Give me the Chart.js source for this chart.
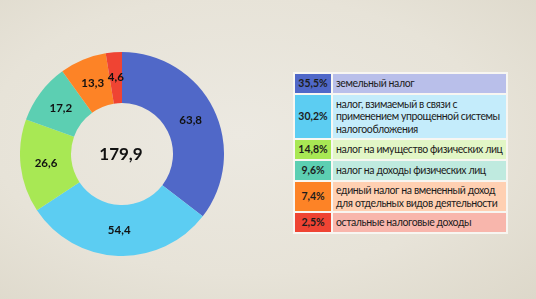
<!DOCTYPE html>
<html lang="ru">
<head>
  <meta charset="UTF-8">
  <title>Налоговые доходы</title>
  <script src="https://cdn.jsdelivr.net/npm/chart.js"></script>
  <style>
    html, body { margin: 0; padding: 0; }
    body {
      width: 536px; height: 299px; overflow: hidden; position: relative;
      background: radial-gradient(ellipse at 45% 45%, #ece9e1 0%, #e7e3d8 60%, #ddd8ca 100%);
      font-family: Lato, "Open Sans", sans-serif;
    }
    .chart-box { position: absolute; left: 20px; top: 52px; width: 204px; height: 204px; }
    table.legend {
      position: absolute; left: 293px; top: 72px;
      border-collapse: separate; border-spacing: 2px;
      background: rgba(250, 249, 246, 0.85);
      font-size: 10.5px; color: #1c1c1c;
    }
    table.legend td { padding: 0 3px; line-height: 12.5px; white-space: nowrap; }
    table.legend td.pct { width: 30px; text-align: center; font-weight: bold; font-size: 10.5px; }
    table.legend td.txt { width: 165px; letter-spacing: -0.4px; }
  </style>
</head>
<body>
  <div class="chart-box"><canvas id="donut"></canvas></div>
  <table class="legend" id="legend"></table>

  <script>
    const labels = [
      'земельный налог',
      'налог, взимаемый в связи с\nприменением упрощенной системы\nналогообложения',
      'налог на имущество физических лиц',
      'налог на доходы физических лиц',
      'единый налог на вмененный доход\nдля отдельных видов деятельности',
      'остальные налоговые доходы'
    ];
    const values = [63.8, 54.4, 26.6, 17.2, 13.3, 4.6];
    const shares = ['35,5%', '30,2%', '14,8%', '9,6%', '7,4%', '2,5%'];
    const total = '179,9';

    const colors = ['#5068c8', '#5ccdf2', '#a8e854', '#5ccfb2', '#fd8326', '#ef4433'];
    const lightColors = ['#b9bfea', '#c4ecfb', '#e2f6c6', '#bfeadf', '#ffd0b2', '#f8b6ac'];
    const rowHeights = [19, 43, 19, 19, 29, 19];

    // таблица-легенда справа
    const legend = document.getElementById('legend');
    labels.forEach((txt, i) => {
      const tr = document.createElement('tr');
      tr.style.height = rowHeights[i] + 'px';
      tr.innerHTML = `<td class="pct" style="background:${colors[i]}">${shares[i]}</td>` +
                     `<td class="txt" style="background:${lightColors[i]}">${txt.replace(/\n/g, '<br>')}</td>`;
      legend.appendChild(tr);
    });

    // подписи значений и итог в центре
    const valueLabels = {
      id: 'valueLabels',
      afterDatasetsDraw(chart) {
        const ctx = chart.ctx;
        const meta = chart.getDatasetMeta(0);
        ctx.save();
        ctx.textAlign = 'center';
        ctx.textBaseline = 'middle';
        ctx.fillStyle = '#111';
        ctx.font = 'bold 11.5px Lato, "Open Sans", sans-serif';
        meta.data.forEach((arc, i) => {
          const p = arc.tooltipPosition();
          ctx.fillText(values[i].toFixed(1).replace('.', ','), p.x, p.y);
        });
        const c = meta.data[0];
        ctx.font = 'bold 17px Lato, "Open Sans", sans-serif';
        ctx.fillText(total, c.x - 1, c.y + 1);
        ctx.restore();
      }
    };

    new Chart(document.getElementById('donut'), {
      type: 'doughnut',
      data: {
        labels: labels,
        datasets: [{
          data: values,
          backgroundColor: colors,
          borderWidth: 0
        }]
      },
      options: {
        responsive: true,
        maintainAspectRatio: false,
        animation: false,
        cutout: '50%',
        plugins: { legend: { display: false }, tooltip: { enabled: false } }
      },
      plugins: [valueLabels]
    });
  </script>
</body>
</html>
